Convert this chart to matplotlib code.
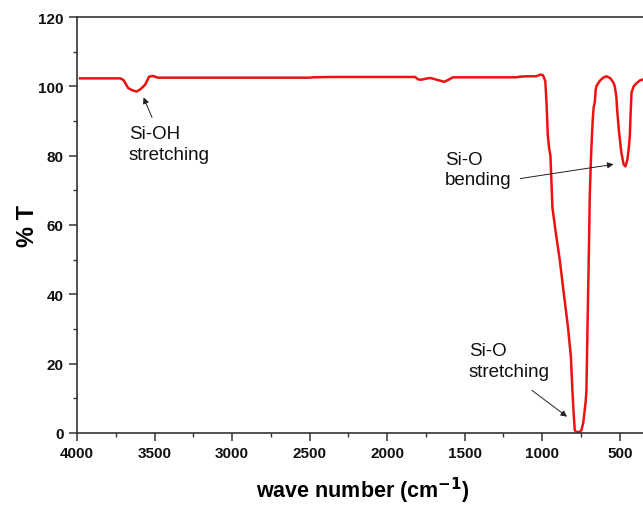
import matplotlib
matplotlib.use("Agg")
import matplotlib.pyplot as plt
from matplotlib.ticker import MultipleLocator

plt.rcParams['font.family'] = ['Liberation Sans', 'DejaVu Sans']

# FTIR spectrum (wave number in cm^-1, transmittance in %)
wavenumber = [3980, 3720, 3700, 3670, 3640, 3615, 3590, 3560, 3535, 3510, 3480,
              2500, 2480, 2360, 1820, 1800, 1780, 1740, 1720, 1680, 1632, 1600,
              1576, 1170, 1140, 1100, 1040, 1010, 995, 980, 972, 964, 955, 947,
              934, 910, 887, 860, 835, 815, 805, 795, 790, 780, 760, 747, 735,
              720, 715, 708, 704, 698, 693, 685, 678, 674, 668, 661, 655, 650,
              630, 610, 586, 560, 540, 532, 522, 517, 505, 490, 475, 463, 450,
              440, 435, 430, 424, 410, 392, 370, 350]
transmittance = [102.3, 102.3, 101.8, 99.5, 98.8, 98.5, 99.2, 100.5, 102.8, 103.0, 102.5,
                 102.5, 102.6, 102.7, 102.7, 102.0, 101.9, 102.3, 102.4, 101.9, 101.3, 102.0,
                 102.6, 102.6, 102.8, 102.9, 102.9, 103.4, 103.2, 101.5, 95.0, 86.0, 82.0, 80.0,
                 65.0, 57.0, 50.0, 40.0, 31.0, 22.0, 12.0, 4.0, 0.8, 0.3, 0.3, 0.8, 3.0,
                 9.0, 12.0, 30.0, 40.0, 55.0, 69.0, 80.0, 87.0, 90.5, 94.0, 95.4, 99.0, 100.1,
                 101.5, 102.4, 102.9, 102.3, 101.0, 100.0, 97.0, 93.4, 87.0, 81.0, 77.5, 76.9, 79.0,
                 83.0, 85.7, 92.0, 98.2, 100.0, 100.9, 101.7, 102.0]

x_ticks = [4000, 3500, 3000, 2500, 2000, 1500, 1000, 500]
y_ticks = [0, 20, 40, 60, 80, 100, 120]

annotations = [
    ("Si-OH\nstretching", (3571, 96.8), (3516, 91.0), (3665, 83.3)),
    ("Si-O\nbending", (540, 77.5), (1141, 73.4), (1628, 76.0)),
    ("Si-O\nstretching", (840, 4.7), (1066, 12.3), (1472, 20.8)),
]

fig = plt.figure(figsize=(6.43, 5.06), dpi=100)
ax = fig.add_axes([77 / 643, 72 / 506, 566 / 643, 416 / 506])

ax.plot(wavenumber, transmittance, color='#ee1111', lw=1.8)

ax.set_xlim(4000, 350)
ax.set_ylim(0, 120)
ax.set_xticks(x_ticks)
ax.set_yticks(y_ticks)
ax.xaxis.set_minor_locator(MultipleLocator(250))
ax.yaxis.set_minor_locator(MultipleLocator(10))

ax.spines['right'].set_visible(False)
for s in ['left', 'bottom', 'top']:
    ax.spines[s].set_linewidth(1.2)
    ax.spines[s].set_color('#333333')

ax.tick_params(which='major', direction='out', length=6, width=1.1, color='#333333',
               labelsize=11, pad=3.5)
ax.tick_params(which='minor', direction='out', length=3, width=1.0, color='#333333')
for lab in ax.get_xticklabels() + ax.get_yticklabels():
    lab.set_fontweight('bold')
    lab.set_color('#111111')

ax.set_xlabel('wave number (cm$^{\\mathbf{-1}}$)', fontsize=15.5, fontweight='bold')
ax.xaxis.set_label_coords(0.505, -0.1)
ax.set_ylabel('% T', fontsize=17, fontweight='bold')
ax.yaxis.set_label_coords(-0.068, 0.5)

for text, head, tail, tpos in annotations:
    ax.annotate('', xy=head, xytext=tail,
                arrowprops=dict(arrowstyle='-|>', color='#222222', lw=0.7,
                                mutation_scale=9, shrinkA=0, shrinkB=0))
    ax.text(tpos[0], tpos[1], text, ha='left', va='center', fontsize=13.5,
            linespacing=1.3, color='#111111')

fig.savefig('out.png', dpi=100)
